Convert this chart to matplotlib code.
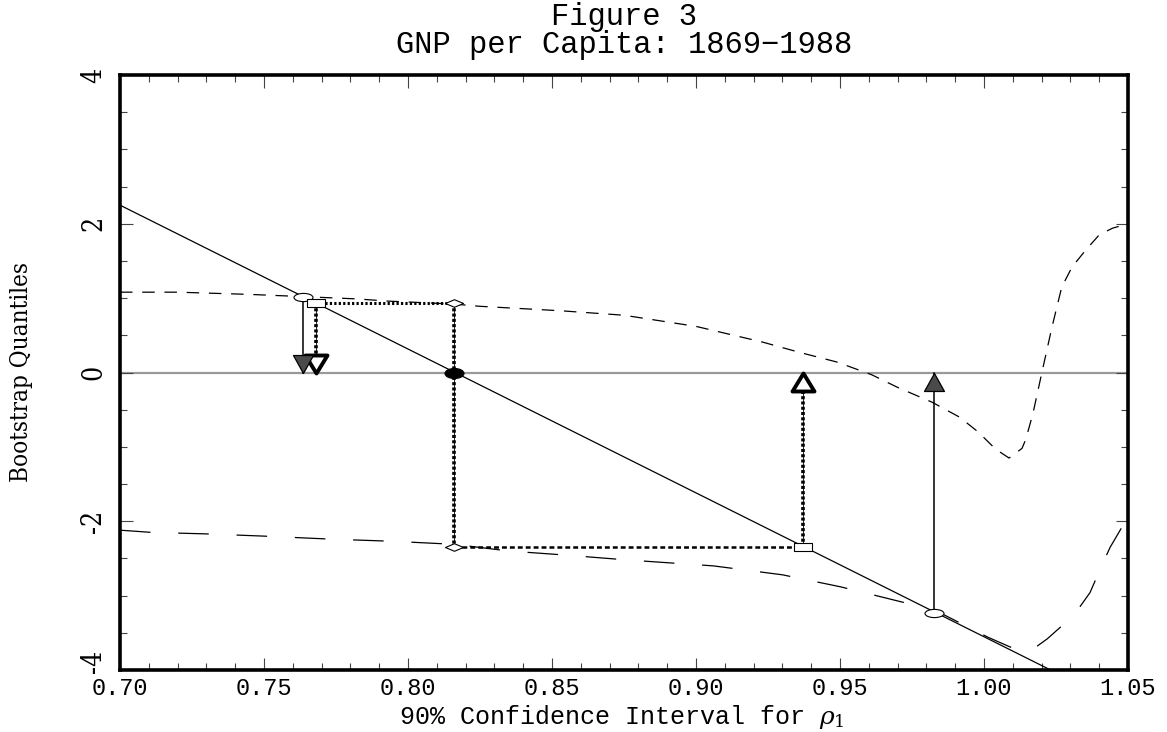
import numpy as np
import matplotlib
matplotlib.use("Agg")
import matplotlib.pyplot as plt
from matplotlib.path import Path
from matplotlib import font_manager as fm
from matplotlib.ticker import MultipleLocator, FixedLocator
from matplotlib.transforms import ScaledTranslation

# ---------------- data ----------------
title_text = "Figure 3\nGNP per Capita: 1869\u22121988"
x_label = "90% Confidence Interval for $\\rho_1$"
y_label = "Bootstrap Quantiles"

x_limits = [0.70, 1.05]
y_limits = [-4, 4]
x_ticks = [0.70, 0.75, 0.80, 0.85, 0.90, 0.95, 1.00, 1.05]
x_ticklabels = ["0.70", "0.75", "0.80", "0.85", "0.90", "0.95", "1.00", "1.05"]
y_ticks = [-4, -2, 0, 2, 4]
y_ticklabels = ["-4", "-2", "0", "2", "4"]

# straight statistic line
line_x = [0.70, 1.05]
line_y = [2.25, -4.52]

# upper bootstrap quantile curve (short dashes)
upper_x = [0.700, 0.720, 0.745, 0.7637, 0.782, 0.793, 0.816, 0.825, 0.853, 0.875,
           0.900, 0.923, 0.936, 0.949, 0.961, 0.970, 0.982, 0.9915, 0.998, 1.004,
           1.0087, 1.0132, 1.0145, 1.017, 1.0201, 1.0236, 1.027, 1.0306, 1.0354,
           1.040, 1.0446, 1.050]
upper_y = [1.08, 1.08, 1.05, 1.02, 0.99, 0.96, 0.92, 0.89, 0.83, 0.77,
           0.62, 0.41, 0.27, 0.14, -0.03, -0.20, -0.40, -0.60, -0.80, -1.03,
           -1.15, -1.02, -0.90, -0.55, 0.00, 0.61, 1.15, 1.42, 1.65,
           1.85, 1.94, 2.00]

# lower bootstrap quantile curve (long dashes)
lower_x = [0.700, 0.711, 0.730, 0.750, 0.773, 0.795, 0.816, 0.835, 0.853, 0.876,
           0.906, 0.930, 0.950, 0.973, 0.9847, 1.0014, 1.012, 1.017, 1.022, 1.0281,
           1.0333, 1.0368, 1.0413, 1.0438, 1.050]
lower_y = [-2.12, -2.15, -2.17, -2.20, -2.24, -2.27, -2.31, -2.40, -2.45, -2.52,
           -2.60, -2.72, -2.88, -3.10, -3.23, -3.56, -3.74, -3.72, -3.58, -3.37,
           -3.15, -2.96, -2.56, -2.35, -1.94]

# construction points
circle_x = [0.7637, 0.9827]
circle_y = [1.02, -3.24]
square_x = [0.768, 0.937]
square_y = [0.93, -2.34]
diamond_x = [0.816, 0.816]
diamond_y = [0.93, -2.34]
center_x = [0.816]
center_y = [0.0]
zero_level = 0.0

# ---------------- fonts ----------------
def pick_narrow():
    entries = [(f.name, str(f.stretch)) for f in fm.fontManager.ttflist]
    cands = [("DejaVu Serif", "condensed"), ("Liberation Sans Narrow", None),
             ("DejaVu Sans", "condensed")]
    for name, stretch in cands:
        for n, s in entries:
            if n == name and (stretch is None or s in ("condensed", "semi-condensed", "700", "600")):
                return name, (stretch or "normal")
    return "DejaVu Sans", "normal"

narrow_name, narrow_stretch = pick_narrow()
mono = ["Liberation Mono", "DejaVu Sans Mono"]

plt.rcParams["lines.scale_dashes"] = False
plt.rcParams["mathtext.fontset"] = "dejavuserif"

# ---------------- markers ----------------
def ellipse_marker(r):
    c = Path.unit_circle()
    return Path(c.vertices * np.array([1.0, r]), c.codes)

def diamond_marker(r):
    return Path([(0, r), (1, 0), (0, -r), (-1, 0), (0, r)],
                [Path.MOVETO, Path.LINETO, Path.LINETO, Path.LINETO, Path.CLOSEPOLY])

def rect_marker(r):
    return Path([(-1, -r), (1, -r), (1, r), (-1, r), (-1, -r)],
                [Path.MOVETO, Path.LINETO, Path.LINETO, Path.LINETO, Path.CLOSEPOLY])

def tri_marker(w, h, down=True):
    s = 1 if down else -1
    return Path([(0, 0), (-w / 2, s * h), (w / 2, s * h), (0, 0)],
                [Path.MOVETO, Path.LINETO, Path.LINETO, Path.CLOSEPOLY])

# ---------------- figure ----------------
fig = plt.figure(figsize=(11.67, 7.32), dpi=100)
ax = fig.add_axes([120 / 1167, 1 - 670 / 732, 1008 / 1167, 595 / 732])
ax.set_xlim(x_limits)
ax.set_ylim(y_limits)

ax.axhline(zero_level, color="#9a9a9a", lw=1.6, zorder=1)

ax.plot(line_x, line_y, color="black", lw=0.9, zorder=3)
ax.plot(upper_x, upper_y, color="black", lw=0.9, dashes=(9, 7), zorder=3)
ax.plot(lower_x, lower_y, color="black", lw=0.9, dashes=(22, 20), zorder=3)

# dotted construction lines
dot_kw = dict(color="black", lw=2.6, dashes=(2.2, 1.6), zorder=4)
thin_kw = dict(color="black", lw=0.6, zorder=4)
vert_paths = [
    ([diamond_x[0], diamond_x[1]], [diamond_y[0], diamond_y[1]]),
    ([square_x[0], square_x[0]], [square_y[0], zero_level]),
    ([square_x[1], square_x[1]], [square_y[1], zero_level]),
]
for xs, ys in vert_paths:
    ax.plot(xs, ys, **thin_kw)
    ax.plot(xs, ys, **dot_kw)
ax.plot([square_x[0], diamond_x[0]], [square_y[0], diamond_y[0]],
        color="black", lw=2.2, dashes=(1.6, 1.6), zorder=4)
ax.plot([diamond_x[1], square_x[1]], [diamond_y[1], square_y[1]],
        color="black", lw=1.8, dashes=(3.5, 2.2), zorder=4)

# solid arrows from circles to zero line
for cx, cy in zip(circle_x, circle_y):
    ax.plot([cx, cx], [cy, zero_level], color="black", lw=1.1, zorder=4)

# markers
ax.plot(circle_x, circle_y, linestyle="none", marker=ellipse_marker(0.43), ms=13.7,
        mfc="white", mec="black", mew=0.8, zorder=6)
ax.plot(square_x, square_y, linestyle="none", marker=rect_marker(0.45), ms=13,
        mfc="white", mec="black", mew=0.8, zorder=6)
ax.plot(diamond_x, diamond_y, linestyle="none", marker=diamond_marker(0.42), ms=13,
        mfc="white", mec="black", mew=0.8, zorder=6)
ax.plot(center_x, center_y, linestyle="none", marker=ellipse_marker(0.53), ms=13.7,
        mfc="black", mec="black", mew=0.8, zorder=6)

# arrow heads (tips on zero line)
ax.plot([square_x[0]], [zero_level], linestyle="none", marker=tri_marker(22, 18, True),
        ms=25.9, mfc="white", mec="black", mew=2.8, zorder=7)
ax.plot([square_x[1]], [zero_level], linestyle="none", marker=tri_marker(22, 18, False),
        ms=25.9, mfc="white", mec="black", mew=2.8, zorder=7)
ax.plot([circle_x[0]], [zero_level], linestyle="none", marker=tri_marker(20, 18, True),
        ms=25.9, mfc="#4a4a4a", mec="black", mew=0.9, zorder=7)
ax.plot([circle_x[1]], [zero_level], linestyle="none", marker=tri_marker(20, 18, False),
        ms=25.9, mfc="#4a4a4a", mec="black", mew=0.9, zorder=7)

# axes styling
for sp in ax.spines.values():
    sp.set_linewidth(2.6)
ax.xaxis.set_major_locator(FixedLocator(x_ticks))
ax.xaxis.set_minor_locator(MultipleLocator(0.01))
ax.yaxis.set_major_locator(FixedLocator(y_ticks))
ax.yaxis.set_minor_locator(MultipleLocator(0.5))
ax.tick_params(which="both", direction="in", top=True, right=True, width=0.8,
               color="#444444")
ax.tick_params(which="major", length=9)
ax.tick_params(which="minor", length=5)
ax.tick_params(axis="x", which="major", pad=5)
ax.tick_params(axis="y", which="major", pad=9)

# y label: fit its length to the reference (about 220 px)
renderer = fig.canvas.get_renderer()
ylab = fig.text(22 / 1167, 1 - 372 / 732, y_label, ha="center", va="center",
                rotation=90, fontfamily=narrow_name, fontstretch=narrow_stretch,
                fontsize=18)
ext = ylab.get_window_extent(renderer)
ylab_size = 18 * 220.0 / max(ext.height, 1)
ylab.set_fontsize(ylab_size)

ax.set_xticklabels(x_ticklabels, fontfamily=mono, fontsize=17)
ax.set_yticklabels(y_ticklabels, fontfamily=narrow_name, fontstretch=narrow_stretch,
                   fontsize=ylab_size * 1.1, rotation=90, va="center")
# lift the bottom y label a little, as in the reference
lbl0 = ax.yaxis.get_majorticklabels()[0]
lbl0.set_transform(lbl0.get_transform() + ScaledTranslation(0, 9 / 100, fig.dpi_scale_trans))

# title and x label
fig.text(624 / 1167, 1 - 2 / 732, title_text, ha="center", va="top",
         fontfamily=mono, fontsize=22, linespacing=0.9)
fig.text(622 / 1167, 1 - 731 / 732, x_label, ha="center", va="bottom",
         fontfamily=mono, fontsize=18)

fig.savefig("out.png", dpi=100)
